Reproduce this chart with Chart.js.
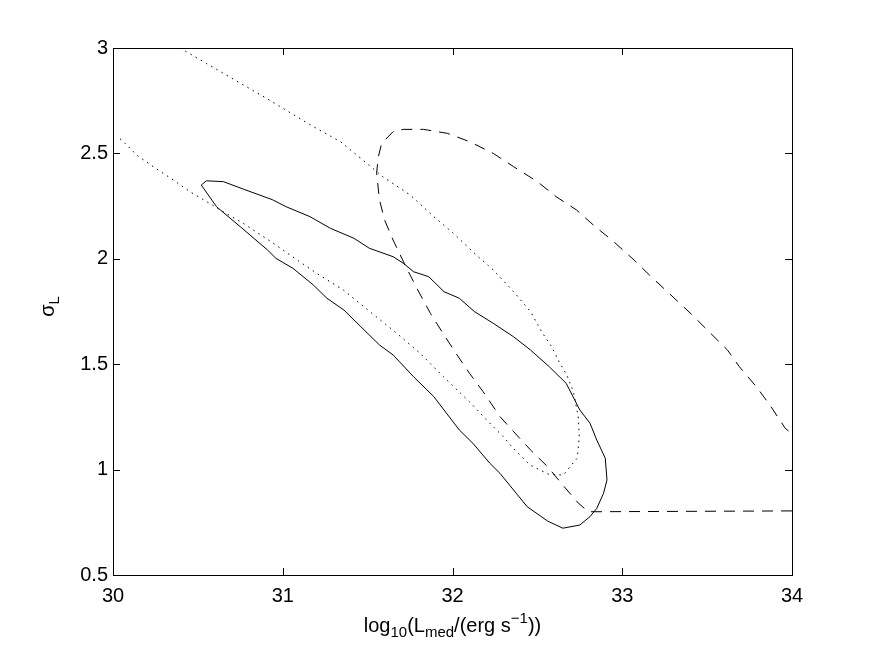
<!DOCTYPE html>
<html>
<head>
<meta charset="utf-8">
<script src="https://cdn.jsdelivr.net/npm/chart.js@4.4.1/dist/chart.umd.min.js"></script>
<style>
  html, body { margin: 0; padding: 0; background: #fff; }
  #wrap { width: 875px; height: 648px; }
</style>
</head>
<body>
<div id="wrap"><canvas id="myChart" width="875" height="648"></canvas></div>
<script>
// contour values (x = log10 Lmed, y = sigma_L)
const solidX = [30.52, 30.55, 30.65, 30.77, 30.94, 31.02, 31.16, 31.28, 31.42, 31.51, 31.65, 31.71, 31.77, 31.86, 31.95,
    32.04, 32.13, 32.24, 32.36, 32.46, 32.57, 32.67, 32.75, 32.81, 32.85, 32.90, 32.91, 32.89, 32.85, 32.81, 32.75,
    32.65, 32.56, 32.44, 32.28, 32.22, 32.12, 32.04, 31.89, 31.77, 31.65, 31.57, 31.46, 31.36, 31.26, 31.18, 31.06,
    30.96, 30.91, 30.75, 30.61, 30.52];
const solidY = [2.35, 2.37, 2.366, 2.33, 2.28, 2.247, 2.20, 2.145, 2.097, 2.05, 2.01, 1.979, 1.939, 1.915, 1.844,
    1.813, 1.749, 1.694, 1.63, 1.567, 1.488, 1.409, 1.283, 1.22, 1.14, 1.054, 0.951, 0.888, 0.816, 0.777, 0.737,
    0.722, 0.756, 0.824, 0.982, 1.03, 1.125, 1.188, 1.346, 1.441, 1.544, 1.591, 1.678, 1.757, 1.813, 1.876, 1.955,
    2.002, 2.042, 2.152, 2.247, 2.35];

const dashedX = [34.0, 32.80, 32.74, 32.64, 32.56, 32.46, 32.36, 32.28, 32.26, 32.18, 32.10, 32.02, 31.95, 31.87,
    31.79, 31.72, 31.65, 31.60, 31.57, 31.553, 31.563, 31.583, 31.65, 31.71, 31.83, 31.97, 32.10, 32.24, 32.36,
    32.50, 32.61, 32.73, 32.83, 32.95, 33.07, 33.16, 33.40, 33.62, 33.69, 33.79, 33.87, 33.96, 34.0];
const dashedY = [0.804, 0.80, 0.842, 0.936, 1.014, 1.093, 1.18, 1.251, 1.275, 1.37, 1.457, 1.552, 1.639, 1.741,
    1.86, 1.971, 2.089, 2.184, 2.279, 2.406, 2.484, 2.548, 2.603, 2.614, 2.614, 2.595, 2.556, 2.50, 2.437,
    2.366, 2.295, 2.232, 2.16, 2.081, 1.994, 1.923, 1.743, 1.567, 1.488, 1.393, 1.306, 1.196, 1.17];

const dottedX = [30.395, 30.55, 30.75, 30.905, 31.05, 31.18, 31.34, 31.495, 31.59, 31.75, 31.89, 32.005, 32.14,
    32.24, 32.36, 32.46, 32.525, 32.584, 32.633, 32.673, 32.712, 32.741, 32.747, 32.735, 32.692, 32.653, 32.563,
    32.457, 32.358, 32.299, 32.211, 32.113, 31.946, 31.809, 31.671, 31.514, 31.357, 31.20, 31.10, 30.944, 30.768,
    30.65, 30.552, 30.454, 30.355, 30.237, 30.14, 30.051, 30.02];
const dottedY = [3.0, 2.927, 2.833, 2.761, 2.69, 2.627, 2.556, 2.453, 2.389, 2.303, 2.20, 2.121, 2.018,
    1.947, 1.844, 1.749, 1.654, 1.583, 1.504, 1.449, 1.37, 1.251, 1.156, 1.054, 1.014, 0.974, 0.979,
    1.022, 1.101, 1.156, 1.227, 1.311, 1.441, 1.552, 1.647, 1.749, 1.852, 1.931, 1.986, 2.074, 2.168,
    2.223, 2.271, 2.318, 2.374, 2.437, 2.492, 2.564, 2.58];

const xTicks = [30, 31, 32, 33, 34];
const yTicks = [0.5, 1, 1.5, 2, 2.5, 3];

const fontFamily = '"Liberation Sans", Arial, Helvetica, sans-serif';
const fontSize = 20;
const subSize = 15;

function points(xs, ys) {
    let pts = [];
    for (let i = 0; i < xs.length; i++) {
        pts.push({x: xs[i], y: ys[i]});
    }
    return pts;
}

function lineSet(xs, ys, dash) {
    return {
        data: points(xs, ys),
        showLine: true,
        borderColor: '#000',
        borderWidth: 1,
        borderDash: dash,
        pointRadius: 0,
        fill: false,
        tension: 0
    };
}

// matlab style box: frame plus inward ticks on all four sides
const boxTicks = {
    id: 'boxTicks',
    afterDatasetsDraw(chart) {
        const ctx = chart.ctx;
        const a = chart.chartArea;
        const xs = chart.scales.x;
        const ys = chart.scales.y;
        const len = 7;
        ctx.save();
        ctx.strokeStyle = '#000';
        ctx.lineWidth = 1;
        ctx.beginPath();
        xs.ticks.forEach(t => {
            const px = Math.round(xs.getPixelForValue(t.value)) + 0.5;
            ctx.moveTo(px, a.bottom);
            ctx.lineTo(px, a.bottom - len);
            ctx.moveTo(px, a.top);
            ctx.lineTo(px, a.top + len);
        });
        ys.ticks.forEach(t => {
            const py = Math.round(ys.getPixelForValue(t.value)) + 0.5;
            ctx.moveTo(a.left, py);
            ctx.lineTo(a.left + len, py);
            ctx.moveTo(a.right, py);
            ctx.lineTo(a.right - len, py);
        });
        ctx.stroke();
        ctx.strokeRect(Math.round(a.left) + 0.5, Math.round(a.top) + 0.5,
            Math.round(a.right - a.left), Math.round(a.bottom - a.top));
        ctx.restore();
    }
};

// axis titles with sub/superscripts
function drawParts(ctx, parts, x, y, align) {
    let total = 0;
    parts.forEach(p => {
        ctx.font = p.size + 'px ' + fontFamily;
        p.w = ctx.measureText(p.text).width;
        total += p.w;
    });
    let cx = align === 'center' ? x - total / 2 : x;
    parts.forEach(p => {
        ctx.font = p.size + 'px ' + fontFamily;
        ctx.fillText(p.text, cx, y + p.dy);
        cx += p.w;
    });
}

const axisTitles = {
    id: 'axisTitles',
    afterDraw(chart) {
        const ctx = chart.ctx;
        const a = chart.chartArea;
        ctx.save();
        ctx.fillStyle = '#000';
        ctx.textBaseline = 'alphabetic';
        ctx.textAlign = 'left';
        drawParts(ctx, [
            {text: 'log', size: fontSize, dy: 0},
            {text: '10', size: subSize, dy: 5},
            {text: '(L', size: fontSize, dy: 0},
            {text: 'med', size: subSize, dy: 5},
            {text: '/(erg s', size: fontSize, dy: 0},
            {text: '\u22121', size: subSize, dy: -9},
            {text: '))', size: fontSize, dy: 0}
        ], (a.left + a.right) / 2, 632, 'center');

        ctx.translate(54, (a.top + a.bottom) / 2 - 5);
        ctx.rotate(-Math.PI / 2);
        drawParts(ctx, [
            {text: '\u03c3', size: fontSize, dy: 0},
            {text: 'L', size: subSize, dy: 5}
        ], 0, 0, 'center');
        ctx.restore();
    }
};

const ctx = document.getElementById('myChart').getContext('2d');
const chart = new Chart(ctx, {
    type: 'scatter',
    data: {
        datasets: [
            lineSet(dottedX, dottedY, [1.5, 4.5]),
            lineSet(dashedX, dashedY, [11, 8]),
            lineSet(solidX, solidY, [])
        ]
    },
    options: {
        responsive: false,
        animation: false,
        events: [],
        layout: { padding: { top: 48, right: 83, left: 0, bottom: 0 } },
        plugins: {
            legend: { display: false },
            tooltip: { enabled: false }
        },
        scales: {
            x: {
                type: 'linear',
                min: 30,
                max: 34,
                afterBuildTicks: s => { s.ticks = xTicks.map(v => ({value: v})); },
                afterFit: s => { s.height = 73; },
                grid: { display: false, drawTicks: false },
                border: { display: false },
                ticks: {
                    color: '#000',
                    padding: 9,
                    maxRotation: 0,
                    font: { family: fontFamily, size: fontSize },
                    callback: v => String(v)
                }
            },
            y: {
                type: 'linear',
                min: 0.5,
                max: 3,
                afterBuildTicks: s => { s.ticks = yTicks.map(v => ({value: v})); },
                afterFit: s => { s.width = 113; },
                grid: { display: false, drawTicks: false },
                border: { display: false },
                ticks: {
                    color: '#000',
                    padding: 5,
                    font: { family: fontFamily, size: fontSize },
                    callback: v => String(v)
                }
            }
        }
    },
    plugins: [boxTicks, axisTitles]
});
</script>
</body>
</html>
